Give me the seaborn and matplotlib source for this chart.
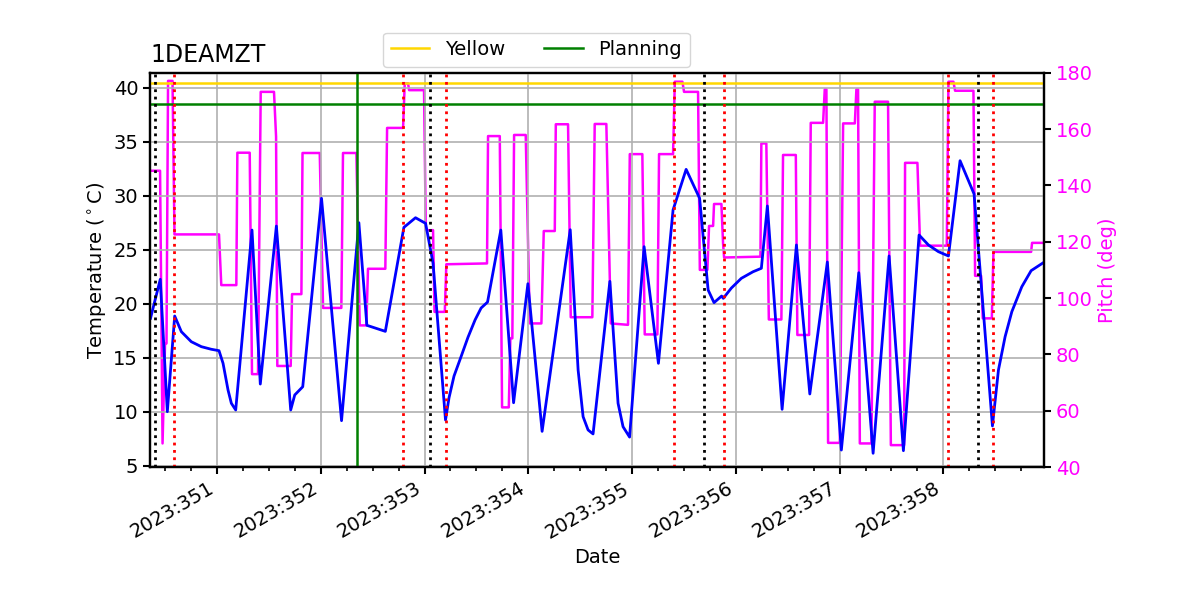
import matplotlib
matplotlib.use("Agg")
import matplotlib.pyplot as plt
import seaborn as sns
from matplotlib.ticker import MultipleLocator, FixedLocator, FixedFormatter
from matplotlib.lines import Line2D

# ---------------- data ----------------
title = "1DEAMZT"

temp_time = [350.359, 350.453, 350.521, 350.592, 350.656, 350.752, 350.849, 350.945, 351.019, 351.058,
             351.106, 351.138, 351.180, 351.337, 351.417, 351.572, 351.710, 351.749, 351.826, 352.007,
             352.200, 352.367, 352.444, 352.622, 352.801, 352.913, 353.010, 353.082, 353.202, 353.236,
             353.284, 353.352, 353.419, 353.487, 353.545, 353.607, 353.735, 353.858, 353.996, 354.133,
             354.404, 354.480, 354.528, 354.576, 354.624, 354.786, 354.865, 354.913, 354.976, 355.116,
             355.254, 355.395, 355.521, 355.651, 355.694, 355.733, 355.790, 355.863, 355.879, 355.957,
             356.053, 356.166, 356.246, 356.304, 356.446, 356.584, 356.713, 356.882, 357.017, 357.185,
             357.323, 357.477, 357.615, 357.766, 357.856, 357.952, 358.049, 358.161, 358.296, 358.473,
             358.531, 358.595, 358.660, 358.756, 358.846, 358.964]
temp_vals = [18.65, 22.26, 10.0, 18.86, 17.41, 16.48, 16.02, 15.78, 15.65, 14.48,
             12.01, 10.78, 10.16, 26.82, 12.56, 27.19, 10.16, 11.55, 12.31, 29.76,
             9.17, 27.5, 18.0, 17.44, 27.07, 27.96, 27.44, 23.74, 9.23, 11.3,
             13.3, 15.1, 16.9, 18.5, 19.6, 20.15, 26.82, 10.83, 21.85, 8.18,
             26.85, 13.86, 9.54, 8.31, 7.94, 22.07, 10.78, 8.61, 7.65, 25.28,
             14.48, 28.68, 32.44, 29.76, 25.28, 21.27, 20.1, 20.71, 20.5, 21.45,
             22.35, 22.96, 23.28, 29.05, 10.22, 25.44, 11.64, 23.86, 6.45, 22.87,
             6.15, 24.42, 6.39, 26.36, 25.44, 24.82, 24.42, 33.24, 30.16, 8.68,
             13.86, 16.94, 19.26, 21.57, 23.06, 23.8]

pitch_time = [350.367, 350.451, 350.475, 350.499, 350.513, 350.528, 350.571, 350.590, 351.019, 351.041,
              351.186, 351.196, 351.315, 351.337, 351.395, 351.421, 351.549, 351.569, 351.581, 351.710,
              351.723, 351.813, 351.824, 351.990, 352.022, 352.198, 352.214, 352.343, 352.375, 352.439,
              352.455, 352.622, 352.639, 352.793, 352.809, 352.841, 352.851, 352.995, 353.012, 353.082,
              353.096, 353.195, 353.210, 353.602, 353.612, 353.725, 353.747, 353.812, 353.827, 353.846,
              353.863, 353.975, 354.014, 354.126, 354.149, 354.255, 354.265, 354.383, 354.409, 354.617,
              354.640, 354.752, 354.795, 354.961, 354.978, 355.099, 355.122, 355.244, 355.260, 355.395,
              355.412, 355.485, 355.501, 355.636, 355.653, 355.726, 355.742, 355.781, 355.790, 355.861,
              355.877, 355.887, 356.237, 356.246, 356.294, 356.318, 356.439, 356.455, 356.578, 356.593,
              356.706, 356.722, 356.841, 356.857, 356.873, 356.889, 357.002, 357.034, 357.147, 357.162,
              357.178, 357.195, 357.307, 357.339, 357.467, 357.494, 357.622, 357.631, 357.750, 357.776,
              358.033, 358.049, 358.097, 358.113, 358.290, 358.306, 358.364, 358.380, 358.467, 358.483,
              358.846, 358.855, 358.964]
pitch_vals = [145.2, 145.2, 48.4, 83.9, 83.9, 177.1, 177.1, 122.6, 122.6, 104.6,
              104.6, 151.6, 151.6, 73.0, 73.0, 173.2, 173.2, 157.3, 75.9, 75.9,
              101.4, 101.4, 151.5, 151.5, 96.5, 96.5, 151.5, 151.5, 90.3, 90.3,
              110.4, 110.4, 160.4, 160.4, 176.2, 176.2, 173.8, 173.8, 124.1, 124.1,
              95.1, 95.1, 112.0, 112.3, 157.5, 157.5, 61.2, 61.2, 85.7, 85.7,
              157.9, 157.9, 91.0, 91.0, 123.8, 123.8, 161.7, 161.7, 93.2, 93.2,
              161.8, 161.8, 91.0, 90.5, 151.1, 151.1, 87.1, 87.1, 151.1, 151.1,
              176.8, 176.8, 173.2, 173.2, 110.0, 110.0, 125.6, 125.6, 133.4, 133.4,
              119.4, 114.4, 114.7, 154.9, 154.9, 92.4, 92.4, 150.8, 150.8, 86.9,
              86.9, 162.2, 162.2, 174.1, 174.1, 48.6, 48.6, 162.0, 162.0, 174.1,
              174.1, 48.4, 48.4, 169.7, 169.7, 47.8, 47.8, 148.0, 148.0, 118.6,
              118.6, 176.8, 176.8, 173.6, 173.6, 107.9, 107.9, 92.8, 92.8, 116.4,
              116.4, 119.6, 119.6]

limit_labels = ["Yellow", "Planning"]
limit_values = [40.4, 38.5]
limit_colors = ["gold", "green"]
planning_time = 352.352
black_times = [350.402, 353.053, 355.697, 358.338]
red_times = [350.588, 352.796, 353.207, 355.408, 355.884, 358.049, 358.482]
day_ticks = [351, 352, 353, 354, 355, 356, 357, 358]
day_labels = ["2023:351", "2023:352", "2023:353", "2023:354",
              "2023:355", "2023:356", "2023:357", "2023:358"]
temp_ticks = [5, 10, 15, 20, 25, 30, 35, 40]
pitch_ticks = [40, 60, 80, 100, 120, 140, 160, 180]

# ---------------- figure ----------------
fig = plt.figure(figsize=(12, 6), dpi=100)
ax = fig.add_axes([0.125, 1 - 467.1 / 600, 0.745, (467.1 - 72.7) / 600])
ax2 = ax.twinx()
ax.set_zorder(ax2.get_zorder() + 1)
ax.patch.set_visible(False)

sns.lineplot(x=pitch_time, y=pitch_vals, ax=ax2, color="magenta", linewidth=1.8,
             estimator=None, sort=False)
sns.lineplot(x=temp_time, y=temp_vals, ax=ax, color="blue", linewidth=2.0,
             estimator=None, sort=False)

handles = []
for lab, val, col in zip(limit_labels, limit_values, limit_colors):
    ax.axhline(val, color=col, linewidth=1.8)
    handles.append(Line2D([], [], color=col, linewidth=1.8))
ax.axvline(planning_time, color="green", linewidth=1.8)
for t in black_times:
    ax.axvline(t, color="black", linestyle=":", linewidth=2)
for t in red_times:
    ax.axvline(t, color="red", linestyle=":", linewidth=2)

ax.set_xlim(350.354, 358.97)
ax.set_ylim(4.87, 41.39)
ax2.set_ylim(40, 180)

ax.xaxis.set_major_locator(FixedLocator(day_ticks))
ax.xaxis.set_major_formatter(FixedFormatter(day_labels))
ax.xaxis.set_minor_locator(MultipleLocator(0.25))
ax.yaxis.set_major_locator(FixedLocator(temp_ticks))
ax2.yaxis.set_major_locator(FixedLocator(pitch_ticks))

ax.grid(True, which="major", color="#b0b0b0", linewidth=1.2)
ax.set_axisbelow(True)

for a in (ax, ax2):
    for s in a.spines.values():
        s.set_linewidth(1.6)
ax.tick_params(axis="both", which="major", labelsize=14, length=5, width=1.5)
ax.tick_params(axis="x", which="minor", length=3, width=1.2)
ax2.tick_params(axis="y", which="major", labelsize=14, length=5, width=1.5,
                labelcolor="magenta")

for lbl in ax.get_xticklabels():
    lbl.set_rotation(30)
    lbl.set_ha("right")

ax.set_xlabel("Date", fontsize=14)
ax.set_ylabel(r"Temperature ($^\circ$C)", fontsize=14)
ax2.set_ylabel("Pitch (deg)", fontsize=14, color="magenta")
ax.set_title(title, loc="left", fontsize=17, pad=8)

fig.legend(handles, limit_labels, loc="upper center", bbox_to_anchor=(0.447, 0.962),
           ncol=2, fontsize=14)

fig.savefig("out.png", dpi=100)
